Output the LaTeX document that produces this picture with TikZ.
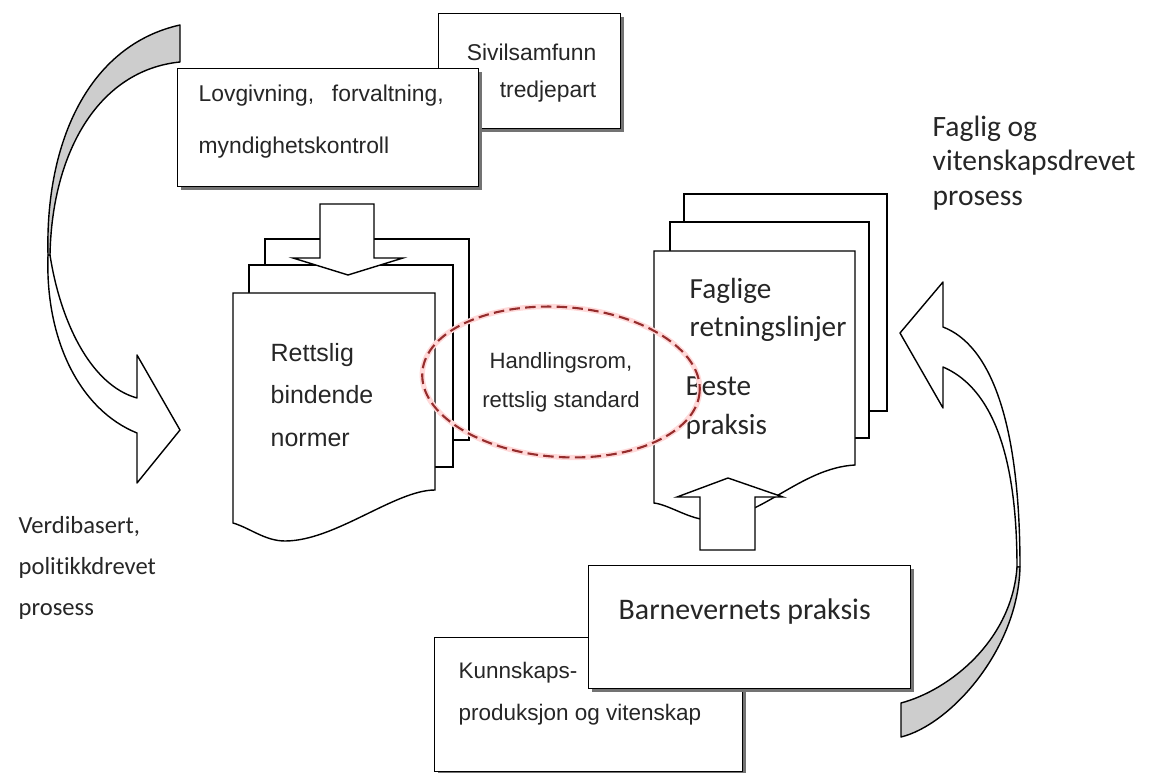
\documentclass[tikz,border=0pt]{standalone}
\usepackage{fontspec}
\setmainfont{Liberation Sans}
\newfontfamily\calfont[Ligatures=NoCommon]{Carlito}
\usetikzlibrary{positioning,shadows}
\definecolor{ovalred}{RGB}{150,45,45}
\definecolor{bandgray}{RGB}{205,205,205}

\begin{document}
\begin{tikzpicture}[
        x=0.02cm, y=-0.02cm,
        line width=0.8pt,
        box/.style={draw, fill=white, anchor=north west, inner sep=0pt,
            drop shadow={shadow xshift=1.8pt, shadow yshift=-1.8pt, opacity=1, fill=black!55}},
        page/.style={draw, fill=white},
        band/.style={draw, fill=white, line join=round},
        txt/.style={inner sep=0pt, text=black!85},
        oval/.style={draw=ovalred, line width=1.2pt, dash pattern=on 6pt off 3pt},
    ]
    \useasboundingbox (0,0) rectangle (1150,773);

    % venstre pil
    \draw[band] (48,255) .. controls (45,340) and (80,410) .. (137,433) -- (137,483) -- (180,430)
        -- (137,355) -- (137,398) .. controls (90,385) and (60,320) .. (50,255) -- cycle;
    \draw[band, fill=bandgray] (180,25) .. controls (90,45) and (45,140) .. (48,255) -- (50,255)
        .. controls (52,150) and (100,70) .. (180,62) -- cycle;

    % hoyre pil
    \draw[band] (943,327) .. controls (990,345) and (1020,420) .. (1020,567) -- (1017,567)
        .. controls (1017,440) and (985,385) .. (943,367) -- (943,408) -- (900,333) -- (943,282) -- cycle;
    \draw[band, fill=bandgray] (1020,567) .. controls (1018,650) and (950,725) .. (901,737) -- (901,703)
        .. controls (950,690) and (1012,640) .. (1017,567) -- cycle;

    % bokser oppe
    \node[box, minimum width=3.64cm, minimum height=2.3cm] (sivil) at (438,13) {};
    \node[box, minimum width=6.02cm, minimum height=2.36cm] (lov) at (177,68) {};

    % rettslige normer
    \draw[page] (265,239) rectangle (469,440);
    \draw[page] (249,265) rectangle (453,467);
    \draw[page] (233,293) -- (435,293) -- (435,490) .. controls (395,490) and (335,541) .. (285,541)
        .. controls (265,541) and (250,528) .. (233,523) -- cycle;
    \draw[page] (320,204) -- (374,204) -- (374,258) -- (403,258) -- (348,275) -- (293,258) -- (320,258) -- cycle;

    % faglige retningslinjer
    \draw[page] (684,194) rectangle (887,411);
    \draw[page] (670,222) rectangle (869,438);
    \draw[page] (654,251) -- (855,251) -- (855,465) .. controls (800,468) and (760,520) .. (710,520)
        .. controls (690,520) and (670,505) .. (654,503) -- cycle;
    \draw[page] (700,550) -- (755,550) -- (755,497) -- (783,497) -- (728,478) -- (677,497) -- (700,497) -- cycle;

    % bokser nede
    \node[box, minimum width=6.16cm, minimum height=2.68cm] (kunn) at (434,637) {};
    \node[box, minimum width=6.44cm, minimum height=2.46cm] (barn) at (588,565) {};

    % tekster
    \node[txt, anchor=west, align=left, font={\fontsize{13}{30}\selectfont}] (lovtext) at (198,121.5)
        {Lovgivning,\enspace\ forvaltning,\\myndighetskontroll};
    \node[txt, anchor=east, align=right, font={\fontsize{13}{21}\selectfont}] (siviltext) at (597,73.5)
        {Sivilsamfunn\\tredjepart};
    \node[txt, anchor=west, align=left, font={\fontsize{14.2}{24}\selectfont}] (rettstext) at (270,395)
        {Rettslig\\bindende\\normer};
    \node[txt, align=center, font={\fontsize{12.6}{22.2}\selectfont}] (handltext) at (561,382.5)
        {Handlingsrom,\\rettslig standard};
    \node[txt, anchor=west, align=left, font={\calfont\fontsize{16.6}{21.5}\selectfont}] (fagtext) at (689,309.5)
        {Faglige\\retningslinjer};
    \node[txt, anchor=west, align=left, font={\calfont\fontsize{16.6}{22.5}\selectfont}] (bestetext) at (685,408)
        {Beste\\praksis};
    \node[txt, anchor=west, font={\calfont\fontsize{17}{20}\selectfont}] (barntext) at (618,612)
        {Barnevernets praksis};
    \node[txt, anchor=west, align=left, font={\fontsize{12.8}{24}\selectfont}] (kunntext) at (458,694)
        {Kunnskaps-\\produksjon og vitenskap};
    \node[txt, anchor=west, align=left, font={\calfont\fontsize{16.8}{19.5}\selectfont}] (fagligtext) at (932,163)
        {Faglig og\\vitenskapsdrevet\\prosess};
    \node[txt, anchor=west, align=left, font={\calfont\fontsize{14}{23.3}\selectfont}] (verditext) at (18,568)
        {Verdibasert,\\politikkdrevet\\prosess};

    % handlingsrom
    \draw[red!15, line width=3pt, rotate around={-4:(561,382)}] (561,382) ellipse [x radius=139, y radius=75];
    \draw[oval, rotate around={-4:(561,382)}] (561,382) ellipse [x radius=139, y radius=75];

\end{tikzpicture}
\end{document}
